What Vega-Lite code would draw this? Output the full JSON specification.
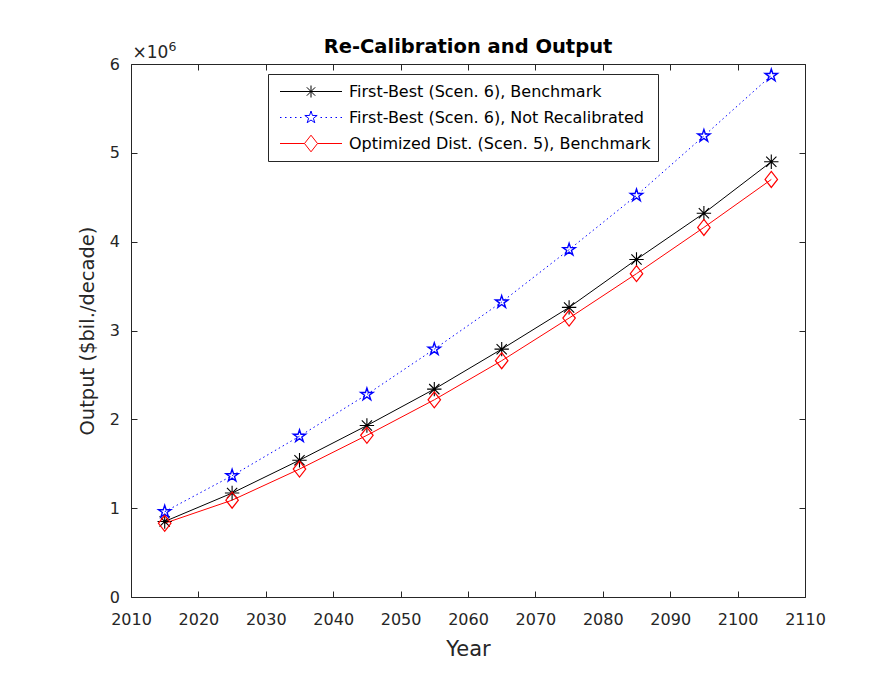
{
  "$schema": "https://vega.github.io/schema/vega-lite/v6.json",
  "width": 674,
  "height": 533,
  "autosize": {"type": "none"},
  "padding": {"left": 131, "top": 64, "right": 82, "bottom": 76},
  "background": "white",
  "config": {
    "font": "DejaVu Sans",
    "view": {"stroke": "#262626", "strokeWidth": 1},
    "axis": {"grid": false, "domain": false, "labelFont": "DejaVu Sans", "labelFontSize": 16, "labelColor": "#262626", "tickColor": "#262626", "tickSize": 6, "offset": -6, "titleFont": "DejaVu Sans", "titleFontWeight": "normal", "titleColor": "#262626", "labelFlush": false, "labelOverlap": false},
    "title": {"font": "DejaVu Sans", "fontSize": 19.5, "fontWeight": "bold", "color": "#000000", "offset": -17, "anchor": "middle"}
  },
  "title": "Re-Calibration and Output",
  "datasets": {
    "main": [
      {"year": 2015, "series": "First-Best (Scen. 6), Benchmark", "value": 0.85},
      {"year": 2025, "series": "First-Best (Scen. 6), Benchmark", "value": 1.17},
      {"year": 2035, "series": "First-Best (Scen. 6), Benchmark", "value": 1.54},
      {"year": 2045, "series": "First-Best (Scen. 6), Benchmark", "value": 1.93},
      {"year": 2055, "series": "First-Best (Scen. 6), Benchmark", "value": 2.34},
      {"year": 2065, "series": "First-Best (Scen. 6), Benchmark", "value": 2.79},
      {"year": 2075, "series": "First-Best (Scen. 6), Benchmark", "value": 3.26},
      {"year": 2085, "series": "First-Best (Scen. 6), Benchmark", "value": 3.80},
      {"year": 2095, "series": "First-Best (Scen. 6), Benchmark", "value": 4.32},
      {"year": 2105, "series": "First-Best (Scen. 6), Benchmark", "value": 4.90},
      {"year": 2015, "series": "First-Best (Scen. 6), Not Recalibrated", "value": 0.96},
      {"year": 2025, "series": "First-Best (Scen. 6), Not Recalibrated", "value": 1.365},
      {"year": 2035, "series": "First-Best (Scen. 6), Not Recalibrated", "value": 1.81},
      {"year": 2045, "series": "First-Best (Scen. 6), Not Recalibrated", "value": 2.28},
      {"year": 2055, "series": "First-Best (Scen. 6), Not Recalibrated", "value": 2.79},
      {"year": 2065, "series": "First-Best (Scen. 6), Not Recalibrated", "value": 3.32},
      {"year": 2075, "series": "First-Best (Scen. 6), Not Recalibrated", "value": 3.91},
      {"year": 2085, "series": "First-Best (Scen. 6), Not Recalibrated", "value": 4.52},
      {"year": 2095, "series": "First-Best (Scen. 6), Not Recalibrated", "value": 5.19},
      {"year": 2105, "series": "First-Best (Scen. 6), Not Recalibrated", "value": 5.87},
      {"year": 2015, "series": "Optimized Dist. (Scen. 5), Benchmark", "value": 0.83},
      {"year": 2025, "series": "Optimized Dist. (Scen. 5), Benchmark", "value": 1.09},
      {"year": 2035, "series": "Optimized Dist. (Scen. 5), Benchmark", "value": 1.44},
      {"year": 2045, "series": "Optimized Dist. (Scen. 5), Benchmark", "value": 1.82},
      {"year": 2055, "series": "Optimized Dist. (Scen. 5), Benchmark", "value": 2.22},
      {"year": 2065, "series": "Optimized Dist. (Scen. 5), Benchmark", "value": 2.66},
      {"year": 2075, "series": "Optimized Dist. (Scen. 5), Benchmark", "value": 3.14},
      {"year": 2085, "series": "Optimized Dist. (Scen. 5), Benchmark", "value": 3.64},
      {"year": 2095, "series": "Optimized Dist. (Scen. 5), Benchmark", "value": 4.16},
      {"year": 2105, "series": "Optimized Dist. (Scen. 5), Benchmark", "value": 4.70}
    ],
    "exponent": [{"base": "×10", "power": "6"}]
  },
  "data": {"name": "main"},
  "resolve": {"axis": {"x": "independent", "y": "independent"}},
  "layer": [
    {
      "transform": [{"filter": "datum.series == 'First-Best (Scen. 6), Benchmark'"}],
      "mark": {"type": "line", "strokeWidth": 1, "stroke": "#000000"},
      "encoding": {
        "x": {"field": "year", "type": "quantitative", "scale": {"domain": [2010, 2110], "nice": false, "zero": false},
              "axis": {"orient": "bottom", "values": [2010, 2020, 2030, 2040, 2050, 2060, 2070, 2080, 2090, 2100, 2110], "format": "d", "title": "Year", "titleFontSize": 21, "labelPadding": 14, "titleY": 47}},
        "y": {"field": "value", "type": "quantitative", "scale": {"domain": [0, 6], "nice": false},
              "axis": {"orient": "left", "values": [0, 1, 2, 3, 4, 5, 6], "format": "d", "title": "Output ($bil./decade)", "titleFontSize": 19.5, "labelPadding": 11.5, "titleX": -40}}
      }
    },
    {
      "transform": [{"filter": "datum.series == 'First-Best (Scen. 6), Not Recalibrated'"}],
      "mark": {"type": "line", "strokeWidth": 1, "stroke": "#0000ff", "strokeDash": [1.5, 3]},
      "encoding": {
        "x": {"field": "year", "type": "quantitative", "axis": null},
        "y": {"field": "value", "type": "quantitative", "axis": null}
      }
    },
    {
      "transform": [{"filter": "datum.series == 'Optimized Dist. (Scen. 5), Benchmark'"}],
      "mark": {"type": "line", "strokeWidth": 1, "stroke": "#ff0000"},
      "encoding": {
        "x": {"field": "year", "type": "quantitative", "axis": null},
        "y": {"field": "value", "type": "quantitative", "axis": null}
      }
    },
    {
      "transform": [{"filter": "datum.series == 'First-Best (Scen. 6), Benchmark'"}],
      "mark": {"type": "point", "filled": false, "stroke": "#000000", "strokeWidth": 1.1, "opacity": 1, "size": 256,
               "shape": "M-0.9,0L0.9,0M0,-0.9L0,0.9M-0.64,-0.64L0.64,0.64M-0.64,0.64L0.64,-0.64"},
      "encoding": {
        "x": {"field": "year", "type": "quantitative", "axis": {"orient": "top", "values": [2010, 2020, 2030, 2040, 2050, 2060, 2070, 2080, 2090, 2100, 2110], "labels": false, "title": null}},
        "y": {"field": "value", "type": "quantitative", "axis": {"orient": "right", "values": [0, 1, 2, 3, 4, 5, 6], "labels": false, "title": null}}
      }
    },
    {
      "transform": [{"filter": "datum.series == 'First-Best (Scen. 6), Not Recalibrated'"}],
      "mark": {"type": "point", "filled": false, "stroke": "#0000ff", "strokeWidth": 1.4, "opacity": 1, "size": 256,
               "shape": "M0,-0.81L0.182,-0.25L0.77,-0.25L0.294,0.096L0.476,0.655L0,0.31L-0.476,0.655L-0.294,0.096L-0.77,-0.25L-0.182,-0.25Z"},
      "encoding": {
        "x": {"field": "year", "type": "quantitative", "axis": null},
        "y": {"field": "value", "type": "quantitative", "axis": null}
      }
    },
    {
      "transform": [{"filter": "datum.series == 'Optimized Dist. (Scen. 5), Benchmark'"}],
      "mark": {"type": "point", "filled": false, "stroke": "#ff0000", "strokeWidth": 1.2, "opacity": 1, "size": 256,
               "shape": "M0,-1L0.78,0L0,1L-0.78,0Z"},
      "encoding": {
        "x": {"field": "year", "type": "quantitative", "axis": null},
        "y": {"field": "value", "type": "quantitative", "axis": null}
      }
    },
    {
      "mark": {"type": "point", "filled": false, "strokeWidth": 1, "size": 0},
      "encoding": {
        "x": {"field": "year", "type": "quantitative", "axis": null},
        "y": {"field": "value", "type": "quantitative", "axis": null},
        "color": {"field": "series", "type": "nominal",
                  "scale": {"domain": ["First-Best (Scen. 6), Benchmark", "First-Best (Scen. 6), Not Recalibrated", "Optimized Dist. (Scen. 5), Benchmark"], "range": ["#000000", "#0000ff", "#ff0000"]},
                  "legend": {"title": null, "orient": "none", "legendX": 137, "legendY": 10, "padding": 7, "fillColor": "#ffffff", "strokeColor": "#262626",
                             "symbolSize": 400, "symbolStrokeWidth": 1, "symbolOpacity": 1, "labelFont": "DejaVu Sans", "labelFontSize": 16, "labelColor": "#000000", "labelOffset": 53, "rowPadding": 7, "labelLimit": 400,
                             "labelExpr": "datum.label + '\u00a0\u00a0\u00a0\u00a0\u00a0'"}},
        "shape": {"field": "series", "type": "nominal",
                  "scale": {"domain": ["First-Best (Scen. 6), Benchmark", "First-Best (Scen. 6), Not Recalibrated", "Optimized Dist. (Scen. 5), Benchmark"],
                            "range": [
                              "M-0.55,0L5.65,0M2.55,-0.6L2.55,0.6M2.13,-0.42L2.97,0.42M2.13,0.42L2.97,-0.42",
                              "M-0.55,0L-0.4,0M-0.05,0L0.1,0M0.45,0L0.6,0M0.95,0L1.1,0M1.45,0L1.6,0M3.5,0L3.65,0M4,0L4.15,0M4.5,0L4.65,0M5,0L5.15,0M5.5,0L5.65,0M2.55,-0.65L2.697,-0.202L3.168,-0.201L2.788,0.077L2.932,0.526L2.55,0.25L2.168,0.526L2.312,0.077L1.932,-0.201L2.403,-0.202Z",
                              "M-0.55,0L1.9,0M3.2,0L5.65,0M2.55,-0.83L3.2,0L2.55,0.83L1.9,0Z"
                            ]},
                  "legend": {"title": null, "orient": "none", "legendX": 137, "legendY": 10, "padding": 7, "fillColor": "#ffffff", "strokeColor": "#262626",
                             "symbolSize": 400, "symbolStrokeWidth": 1, "symbolOpacity": 1, "labelFont": "DejaVu Sans", "labelFontSize": 16, "labelColor": "#000000", "labelOffset": 53, "rowPadding": 7, "labelLimit": 400,
                             "labelExpr": "datum.label + '\u00a0\u00a0\u00a0\u00a0\u00a0'"}}
      }
    },
    {
      "data": {"name": "exponent"},
      "mark": {"type": "text", "align": "left", "baseline": "alphabetic", "dx": 1.5, "dy": -5.7, "fontSize": 17, "font": "DejaVu Sans", "color": "#262626"},
      "encoding": {
        "x": {"datum": 2010, "type": "quantitative", "axis": null},
        "y": {"datum": 6, "type": "quantitative", "axis": null},
        "text": {"field": "base"}
      }
    },
    {
      "data": {"name": "exponent"},
      "mark": {"type": "text", "align": "left", "baseline": "alphabetic", "dx": 37.5, "dy": -13.3, "fontSize": 12.5, "font": "DejaVu Sans", "color": "#262626"},
      "encoding": {
        "x": {"datum": 2010, "type": "quantitative", "axis": null},
        "y": {"datum": 6, "type": "quantitative", "axis": null},
        "text": {"field": "power"}
      }
    }
  ]
}
